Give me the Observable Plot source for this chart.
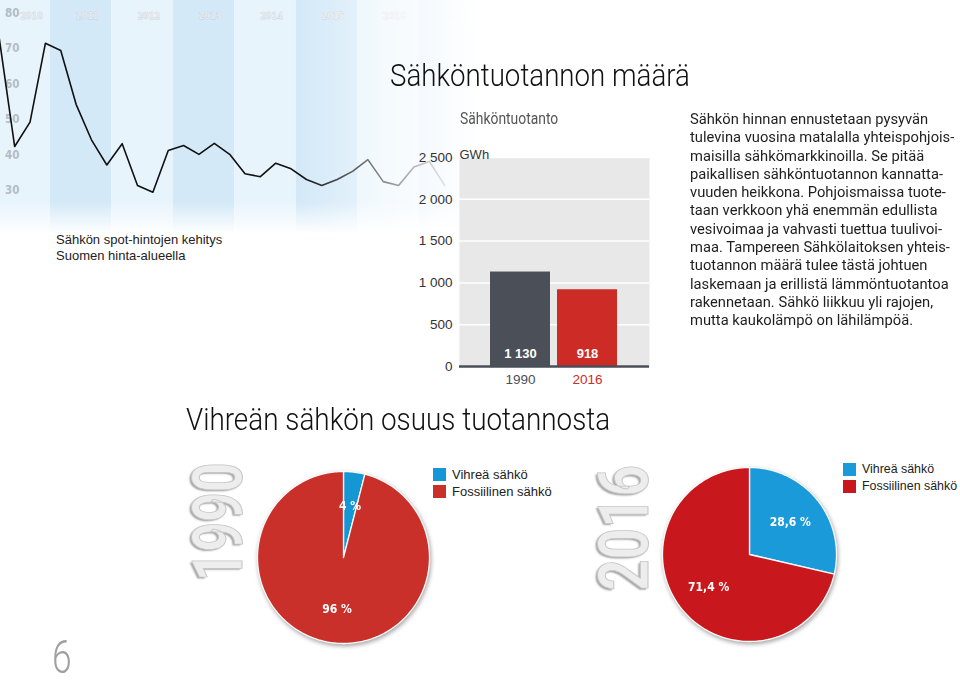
<!DOCTYPE html>
<html><head><meta charset="utf-8">
<script src="https://cdn.jsdelivr.net/npm/d3@7"></script>
<script src="https://cdn.jsdelivr.net/npm/@observablehq/plot@0.6"></script>
<style>
body{margin:0;background:#fff;}
#page{position:relative;width:960px;height:684px;overflow:hidden;font-family:"Liberation Sans",Arial,sans-serif;color:#222;}
.abs{position:absolute;white-space:nowrap;}
.cond{font-family:Roboto,"DejaVu Sans Condensed",sans-serif;transform-origin:left top;}
.fade{position:absolute;pointer-events:none;}
.big{position:absolute;white-space:nowrap;font-family:Roboto,"DejaVu Sans Condensed",sans-serif;font-weight:bold;font-size:70px;line-height:1;color:#ededed;-webkit-text-stroke:1px #c6c6c6;text-shadow:-2px -2px 2px rgba(0,0,0,0.35);transform:translate(-50%,-50%) rotate(-90deg);}
.leg{position:absolute;font-size:13px;line-height:17px;white-space:nowrap;}
.leg .row{display:flex;align-items:center;height:17px;}
.leg .sw{width:13px;height:13px;margin-right:6px;flex:none;}
.pie svg{filter:drop-shadow(1px 2px 2px rgba(0,0,0,0.35));}
</style></head>
<body><div id="page">
<div id="price" class="abs" style="left:0;top:0"></div>
<div class="fade" style="left:0;top:0;width:480px;height:250px;background:linear-gradient(to right,rgba(255,255,255,0) 300px,rgba(255,255,255,0.4) 366px,rgba(255,255,255,0.85) 440px,#fff 480px);"></div>
<div class="fade" style="left:0;top:0;width:480px;height:250px;background:linear-gradient(to bottom,rgba(255,255,255,0) 202px,#fff 234px);"></div>
<div class="abs" style="left:56px;top:232px;font-size:13px;line-height:16px;color:#222">Sähkön spot-hintojen kehitys<br>Suomen hinta-alueella</div>
<div class="abs cond" data-w="300" style="left:390px;top:58px;font-size:31px;line-height:36px;font-weight:300;color:#111">Sähköntuotannon määrä</div>
<div class="abs cond" data-w="98" style="left:460px;top:109px;font-size:16px;line-height:19px;color:#555">Sähköntuotanto</div>
<div id="prod" class="abs" style="left:400px;top:140px"></div>
<div class="abs cond" data-w="264" style="left:690px;top:110px;font-size:15px;line-height:18.3px;color:#1e1e1e">Sähkön hinnan ennustetaan pysyvän<br>tulevina vuosina matalalla yhteispohjois-<br>maisilla sähkömarkkinoilla. Se pitää<br>paikallisen sähköntuotannon kannatta-<br>vuuden heikkona. Pohjoismaissa tuote-<br>taan verkkoon yhä enemmän edullista<br>vesivoimaa ja vahvasti tuettua tuulivoi-<br>maa. Tampereen Sähkölaitoksen yhteis-<br>tuotannon määrä tulee tästä johtuen<br>laskemaan ja erillistä lämmöntuotantoa<br>rakennetaan. Sähkö liikkuu yli rajojen,<br>mutta kaukolämpö on lähilämpöä.</div>
<div class="abs cond" data-w="424" style="left:186px;top:402px;font-size:31px;line-height:36px;font-weight:300;color:#111">Vihreän sähkön osuus tuotannosta</div>
<div class="big" data-len="119" style="left:218px;top:522px">1990</div>
<div class="big" data-len="126" style="left:624px;top:528px">2016</div>
<div id="pie1990" class="abs pie" style="left:253px;top:467px"></div>
<div id="pie2016" class="abs pie" style="left:658px;top:463px"></div>
<div id="leg1990" class="leg" style="left:433px;top:466px"></div>
<div id="leg2016" class="leg" style="left:843px;top:461px;font-size:12.4px"></div>
<div class="abs cond" data-w="20" style="left:52px;top:630px;font-size:46px;color:#a0a0a0;font-weight:300">6</div>
</div>
<script>
// ---- data ----
const priceDates = ["2010-03","2010-06","2010-09","2010-12","2011-03","2011-06","2011-09","2011-12",
  "2012-03","2012-06","2012-09","2012-12","2013-03","2013-06","2013-09","2013-12",
  "2014-03","2014-06","2014-09","2014-12","2015-03","2015-06","2015-09","2015-12",
  "2016-03","2016-06","2016-09","2016-12","2017-03","2017-06"];
const priceValues = [72.8,42.4,49.3,71.5,69.5,54.3,44.3,37.2,43.2,31.4,29.5,41.3,42.7,40.2,43.3,40.2,
  34.7,33.9,37.7,36.1,33.1,31.4,33.1,35.4,38.7,32.5,31.4,36.6,38.2,31.4];
const bandYears = [2010,2011,2012,2013,2014,2015,2016,2017];
const priceTicks = [30,40,50,60,70,80];

const prodYears = ["1990","2016"];
const prodValues = [1130,918];
const prodTicks = [0,500,1000,1500,2000,2500];

const shareLabels = ["Vihreä sähkö","Fossiilinen sähkö"];
const share1990 = [4,96];
const share2016 = [28.6,71.4];

const NARROW = '"DejaVu Sans Condensed",sans-serif';
const SANS = '"Liberation Sans",Arial,sans-serif';

// ---- price line chart ----
const dec = s => +s.slice(0,4) + (+s.slice(5,7) - 1) / 12;
const price = priceDates.map((d,i) => ({t: dec(d), v: priceValues[i]}));
const xStart = 2010.186, xEnd = 2018;
const bands = bandYears.map((y,i) => ({year: y, x1: y, x2: y + 1, dark: i % 2 === 1}));

document.getElementById("price").append(Plot.plot({
  width: 480, height: 250, marginLeft: 20, marginTop: 0, marginRight: 0, marginBottom: 0,
  x: {domain: [xStart, xEnd], range: [0, 480], axis: null},
  y: {domain: [30, 80], range: [190, 12.7], axis: null},
  color: {type: "identity"},
  style: {fontFamily: NARROW, background: "transparent"},
  marks: [
    Plot.rect(bands, {x1: "x1", x2: "x2", fill: d => d.dark ? "#d4e9f8" : "#e8f4fc"}),
    Plot.text(bands, {x: d => (Math.max(d.x1, xStart) + d.x2) / 2, frameAnchor: "top", dy: 12, dx: 6,
      text: d => String(d.year), fill: "#e6ebef", stroke: "#aeb7c0", strokeWidth: 0.35,
      fontSize: 9, fontWeight: "bold"}),
    Plot.axisY(priceTicks, {anchor: "left", tickSize: 0, tickPadding: 1, label: null,
      fontSize: 11.5, fontWeight: "bold", fill: "#b3bcc5"}),
    Plot.line(price, {x: "t", y: "v", stroke: "#111", strokeWidth: 1.6})
  ]
}));

// ---- production bars ----
const fmt = d => d3.format(",")(d).replace(/,/g, " ");
const prod = prodYears.map((y,i) => ({year: y, value: prodValues[i]}));
document.getElementById("prod").append(Plot.plot({
  width: 260, height: 260, marginLeft: 59, marginRight: 11, marginTop: 17, marginBottom: 34,
  x: {domain: prodYears, paddingInner: 0.1, paddingOuter: 0.45, axis: null},
  y: {domain: [0, 2500], axis: null, label: null},
  color: {domain: prodYears, range: ["#4b4f58", "#cc2b26"]},
  style: {fontFamily: SANS, background: "transparent"},
  marks: [
    Plot.frame({fill: "#e8e8e9", stroke: null}),
    Plot.gridY(prodTicks, {stroke: "#fff", strokeOpacity: 1, strokeWidth: 1.5}),
    Plot.barY(prod, {x: "year", y: "value", fill: "year"}),
    Plot.ruleY([0], {stroke: "#4a4e57", strokeWidth: 2.5}),
    Plot.axisY(prodTicks, {anchor: "left", tickSize: 0, tickPadding: 7, tickFormat: fmt, label: null,
      fontSize: 13.5, fill: "#333"}),
    Plot.text(prod, {x: "year", y: 0, dy: -13, text: d => fmt(d.value), fill: "#fff",
      fontWeight: "bold", fontSize: 13}),
    Plot.text(prod, {x: "year", y: 0, dy: 13, text: "year", fill: "year", fontSize: 13.5}),
    Plot.text(["GWh"], {frameAnchor: "top-left", dy: -8, textAnchor: "start", fill: "#333", fontSize: 13})
  ]
}));

// ---- pies ----
function pieRows(values) {
  const arcs = d3.pie().sort(null)(values);
  const rows = [];
  arcs.forEach((a, k) => {
    rows.push({k, x: 0, y: 0});
    const n = Math.max(2, Math.ceil((a.endAngle - a.startAngle) / 0.02));
    for (let j = 0; j <= n; j++) {
      const ang = a.startAngle + (a.endAngle - a.startAngle) * j / n;
      rows.push({k, x: Math.sin(ang), y: Math.cos(ang)});
    }
    rows.push({k, x: 0, y: 0});
  });
  return {rows, arcs};
}
function pie(el, values, r, colors) {
  const {rows, arcs} = pieRows(values);
  const labels = arcs.map((a, k) => {
    const m = (a.startAngle + a.endAngle) / 2;
    return {k, x: Math.sin(m) * 0.6, y: Math.cos(m) * 0.6,
      label: String(values[k]).replace(".", ",") + " %"};
  });
  const size = 2 * r + 8;
  document.getElementById(el).append(Plot.plot({
    width: size, height: size, margin: 4,
    x: {domain: [-1, 1], axis: null},
    y: {domain: [-1, 1], axis: null},
    color: {domain: [0, 1], range: colors, type: "ordinal"},
    style: {fontFamily: NARROW, background: "transparent", overflow: "visible"},
    marks: [
      Plot.line(rows, {x: "x", y: "y", z: "k", fill: "k", stroke: "#fafafa", strokeWidth: 1.3, strokeLinejoin: "round"}),
      Plot.text(labels, {x: "x", y: "y", text: "label", fill: "#fff", fontWeight: "bold", fontSize: 12})
    ]
  }));
}
pie("pie1990", share1990, 86, ["#1597d6", "#c9302a"]);
pie("pie2016", share2016, 87, ["#1a9ad9", "#c9181d"]);

function legend(el, colors) {
  const box = document.getElementById(el);
  shareLabels.forEach((lab, i) => {
    const row = document.createElement("div");
    row.className = "row";
    row.innerHTML = `<span class="sw" style="background:${colors[i]}"></span><span>${lab}</span>`;
    box.append(row);
  });
}
legend("leg1990", ["#1597d6", "#c9302a"]);
legend("leg2016", ["#1a9ad9", "#c9181d"]);

// condense HTML texts to the widths they take in the reference
function fit() {
  document.querySelectorAll("[data-w]").forEach(el => {
    el.style.transform = `scaleX(${(+el.dataset.w / el.offsetWidth).toFixed(4)})`;
  });
  document.querySelectorAll("[data-len]").forEach(el => {
    el.style.transform = `translate(-50%,-50%) rotate(-90deg) scaleX(${(+el.dataset.len / el.offsetWidth).toFixed(4)})`;
  });
}
fit();
if (document.fonts && document.fonts.ready) document.fonts.ready.then(fit);
</script>
</body></html>
